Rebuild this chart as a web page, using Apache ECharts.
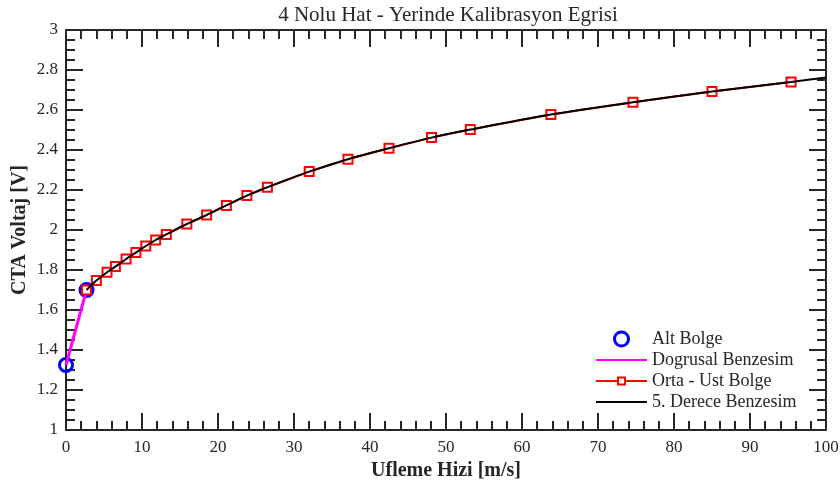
<!DOCTYPE html>
<html>
<head>
<meta charset="utf-8">
<script src="https://cdn.jsdelivr.net/npm/echarts@6/dist/echarts.min.js"></script>
<style>
  html, body { margin: 0; padding: 0; background: #fff; }
  #chart { width: 840px; height: 483px; }
</style>
</head>
<body>
<div id="chart"></div>
<script>
// lower region (measured)
const altX = [0, 2.7];
const altY = [1.325, 1.700];

// linear fit through the lower region
const linX = [0, 2.7];
const linY = [1.325, 1.700];

// middle - upper region (measured)
const ustX = [2.7, 4.0, 5.4, 6.5, 7.9, 9.2, 10.5, 11.8, 13.2, 15.9, 18.5, 21.1, 23.8, 26.5, 32.0, 37.1, 42.5, 48.1, 53.2, 63.8, 74.6, 85.0, 95.4];
const ustY = [1.700, 1.747, 1.789, 1.817, 1.855, 1.887, 1.920, 1.950, 1.978, 2.030, 2.075, 2.123, 2.172, 2.214, 2.292, 2.354, 2.409, 2.462, 2.502, 2.577, 2.639, 2.692, 2.740];

// 5th degree fit curve
const fitX = ustX.concat([100]);
const fitY = ustY.concat([2.763]);

const xTicks = [0, 10, 20, 30, 40, 50, 60, 70, 80, 90, 100];
const yTicks = [1, 1.2, 1.4, 1.6, 1.8, 2, 2.2, 2.4, 2.6, 2.8, 3];

const font = 'Liberation Serif';
const ink = '#262626';
const lineIcon = 'path://M0,0 L51,0 L51,2 L0,2 Z';
// line with a small hollow square in the middle
const lineSquareIcon = 'path://M0,6.5 L21,6.5 L21,8.5 L0,8.5 Z M30,6.5 L51,6.5 L51,8.5 L30,8.5 Z ' +
  'M21,3 L30,3 L30,12 L21,12 Z M23,5 L23,10 L28,10 L28,5 Z';

function zip(xs, ys) {
  return xs.map((x, i) => [x, ys[i]]);
}

function xAxisOpt(pos, labels) {
  return {
    type: 'value',
    position: pos,
    min: xTicks[0],
    max: xTicks[xTicks.length - 1],
    interval: xTicks[1] - xTicks[0],
    axisLine: { show: true, onZero: false, lineStyle: { color: ink, width: 2 } },
    axisTick: { show: true, inside: true, length: 17, lineStyle: { color: ink, width: 2 } },
    minorTick: { show: true, splitNumber: 5, length: 9, lineStyle: { color: ink, width: 2 } },
    splitLine: { show: false },
    axisLabel: { show: labels, color: ink, fontFamily: font, fontSize: 17, margin: 9 },
    name: labels ? 'Ufleme Hizi [m/s]' : '',
    nameLocation: 'middle',
    nameGap: 27,
    nameTextStyle: { color: ink, fontFamily: font, fontSize: 20, fontWeight: 'bold' }
  };
}

function yAxisOpt(pos, labels) {
  return {
    type: 'value',
    position: pos,
    min: yTicks[0],
    max: yTicks[yTicks.length - 1],
    interval: 0.2,
    axisLine: { show: true, onZero: false, lineStyle: { color: ink, width: 2 } },
    axisTick: { show: true, inside: true, length: 17, lineStyle: { color: ink, width: 2 } },
    minorTick: { show: true, splitNumber: 4, length: 9, lineStyle: { color: ink, width: 2 } },
    splitLine: { show: false },
    axisLabel: { show: labels, color: ink, fontFamily: font, fontSize: 17, margin: 8 },
    name: labels ? 'CTA Voltaj [V]' : '',
    nameLocation: 'middle',
    nameGap: 36,
    nameMoveOverlap: false,
    nameTextStyle: { color: ink, fontFamily: font, fontSize: 20, fontWeight: 'bold' }
  };
}

const chart = echarts.init(document.getElementById('chart'));

chart.setOption({
  animation: false,
  backgroundColor: '#fff',
  title: {
    text: '4 Nolu Hat - Yerinde Kalibrasyon Egrisi',
    left: 443,
    textAlign: 'center',
    top: 0,
    textStyle: { color: ink, fontFamily: font, fontSize: 21, fontWeight: 'normal' }
  },
  grid: { left: 66, right: 14, top: 30, bottom: 53, outerBoundsMode: 'none', containLabel: false },
  legend: {
    orient: 'vertical',
    left: 596,
    top: 330,
    padding: 0,
    itemWidth: 51,
    itemHeight: 14,
    itemGap: 3,
    textStyle: { color: ink, fontFamily: font, fontSize: 18, lineHeight: 18 },
    data: [
      { name: 'Alt Bolge', icon: 'circle', itemStyle: { color: '#fff', borderColor: '#0000ff', borderWidth: 3 } },
      { name: 'Dogrusal Benzesim', icon: lineIcon, itemStyle: { color: '#ff00ff' } },
      { name: 'Orta - Ust Bolge', icon: lineSquareIcon, itemStyle: { color: '#ff0000', borderWidth: 0 } },
      { name: '5. Derece Benzesim', icon: lineIcon, itemStyle: { color: '#000' } }
    ]
  },
  xAxis: [xAxisOpt('bottom', true), xAxisOpt('top', false)],
  yAxis: [yAxisOpt('left', true), yAxisOpt('right', false)],
  series: [
    {
      name: 'Alt Bolge',
      type: 'scatter',
      data: zip(altX, altY),
      symbol: 'circle',
      symbolSize: 13,
      itemStyle: { color: 'rgba(255,255,255,0)', borderColor: '#0000ff', borderWidth: 3, opacity: 1 },
      z: 2
    },
    {
      name: 'Dogrusal Benzesim',
      type: 'line',
      data: zip(linX, linY),
      symbol: 'none',
      lineStyle: { color: '#ff00ff', width: 3 },
      itemStyle: { color: '#ff00ff' },
      z: 3
    },
    {
      name: 'Orta - Ust Bolge',
      type: 'line',
      data: zip(ustX, ustY),
      symbol: 'emptyRect',
      symbolSize: 9,
      showAllSymbol: true,
      lineStyle: { color: '#ff0000', width: 2 },
      itemStyle: { color: '#ff0000', borderWidth: 2 },
      z: 4
    },
    {
      name: '5. Derece Benzesim',
      type: 'line',
      data: zip(fitX, fitY),
      symbol: 'none',
      smooth: 0.3,
      lineStyle: { color: '#000', width: 2 },
      itemStyle: { color: '#000' },
      z: 5
    }
  ]
});
</script>
</body>
</html>
